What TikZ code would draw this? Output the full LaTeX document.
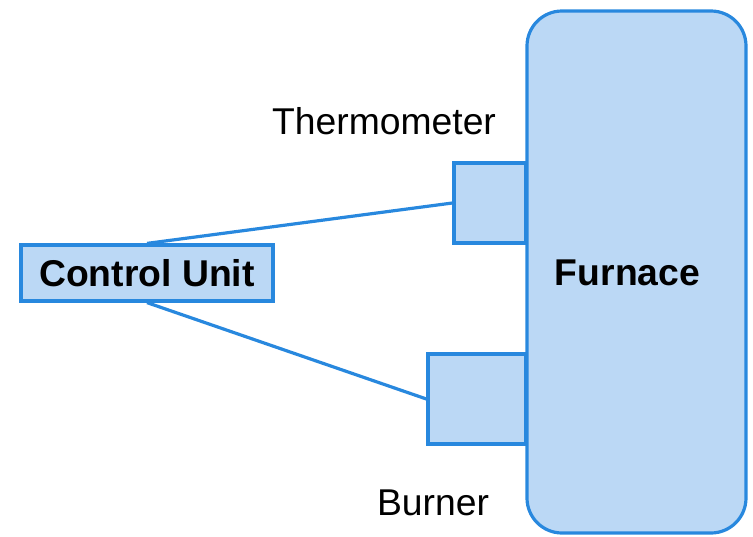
\documentclass[tikz,border=0pt]{standalone}
\usepackage{fontspec}
\setmainfont{Liberation Sans}
\definecolor{strokeblue}{RGB}{40,136,222}
\definecolor{fillblue}{RGB}{187,216,245}
\begin{document}
\begin{tikzpicture}[x=1pt,y=-1pt,
  part/.style={draw=strokeblue,fill=fillblue,line width=3.2pt,inner sep=0pt,rectangle},
  conn/.style={draw=strokeblue,line width=3.2pt},
  lbl/.style={font=\fontsize{37.3}{44}\selectfont,inner sep=0pt,text=black},
  blbl/.style={font=\fontsize{37.3}{44}\selectfont\bfseries,inner sep=0pt,text=black}]
\useasboundingbox (0,0) rectangle (753,536);
\node[part,minimum width=72pt,minimum height=80pt] (therm) at (490,203) {};
\node[part,minimum width=98pt,minimum height=90pt] (burner) at (477,399) {};
\node[part,rounded corners=35pt,minimum width=219pt,minimum height=522pt] (furnace) at (636.5,272) {};
\node[blbl] (furnacelbl) at (627.5,273) {Furnace};
\node[part,minimum width=252pt,minimum height=56pt,blbl] (ctrl) at (147,273) {Control Unit};
\draw[conn] (ctrl.north) -- (therm.west);
\draw[conn] (ctrl.south) -- (burner.west);
\node[lbl] (thermlbl) at (384,121) {Thermometer};
\node[lbl] (burnerlbl) at (433,503) {Burner};
\end{tikzpicture}
\end{document}
